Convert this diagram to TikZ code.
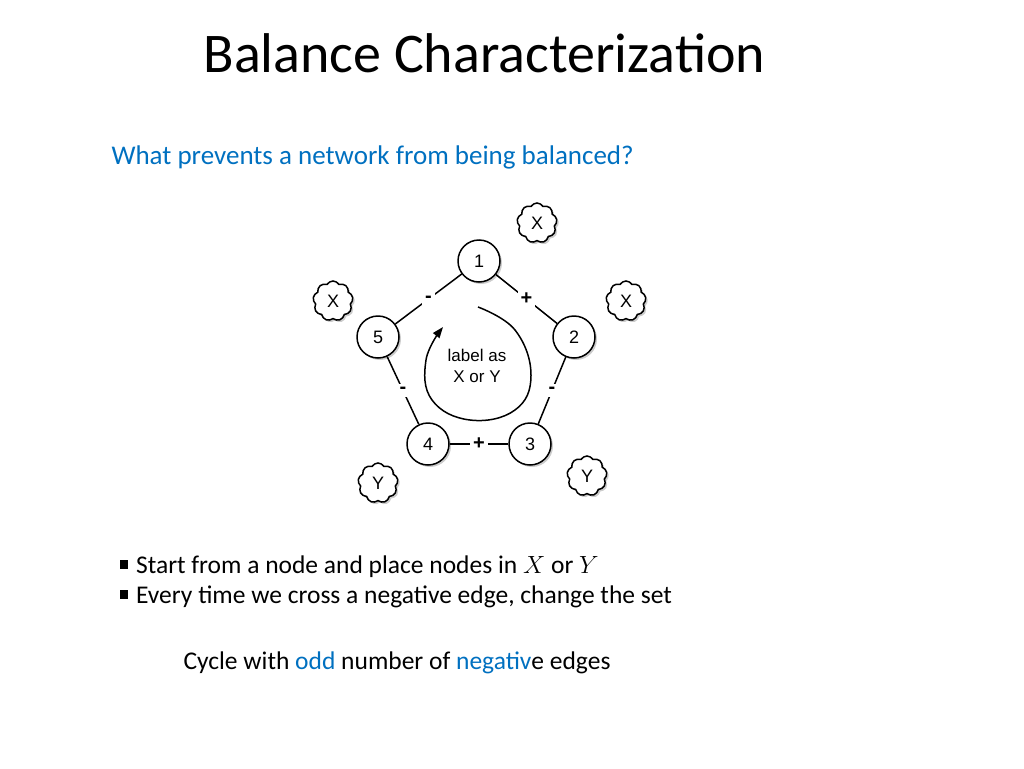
\documentclass[tikz,border=0pt]{standalone}
\usepackage{fontspec}
\setmainfont{Carlito}
\newfontfamily\arialf{Liberation Sans}
\usetikzlibrary{shapes.symbols,shadows,arrows.meta}
\definecolor{accent}{RGB}{0,112,192}
\newcommand{\bsq}{\raisebox{0.2em}{\rule{0.35em}{0.35em}}\hspace{0.3em}}
\begin{document}
\begin{tikzpicture}[x=1pt,y=-1pt,
  vert/.style={circle,draw,line width=1.5pt,fill=white,minimum size=42pt,inner sep=0pt,font=\arialf\fontsize{18}{18}\selectfont,drop shadow={opacity=0.4,shadow xshift=2pt,shadow yshift=-2pt}},
  cl/.style={cloud,cloud puffs=9,cloud puff arc=120,aspect=1,draw,line width=1.5pt,fill=white,minimum width=40pt,minimum height=40pt,inner sep=0pt,font=\arialf\fontsize{18}{18}\selectfont,drop shadow={opacity=0.4,shadow xshift=2pt,shadow yshift=-2pt}},
  sgn/.style={fill=white,inner sep=3pt,font=\arialf\bfseries\fontsize{20}{20}\selectfont},
  edge/.style={line width=1.5pt}]
\useasboundingbox (0,0) rectangle (1024,768);
\node[anchor=west,font=\fontsize{56}{56}\selectfont] (title) at (200,53) {Balance Characterization};
\node[anchor=west,text=accent,font=\fontsize{27}{27}\selectfont] (q) at (108,157) {What prevents a network from being balanced?};
\node (n1) [vert] at (479,261) {1};
\node (n2) [vert] at (574,337) {2};
\node (n3) [vert] at (530,444) {3};
\node (n4) [vert] at (428,444) {4};
\node (n5) [vert] at (378,337) {5};
\draw[edge] (n1) -- node[sgn]{+} (n2);
\draw[edge] (n2) -- node[sgn]{-} (n3);
\draw[edge] (n3) -- node[sgn]{+} (n4);
\draw[edge] (n4) -- node[sgn]{-} (n5);
\draw[edge] (n5) -- node[sgn]{-} (n1);
\node[cl] (c1) at (537,223) {X};
\node[cl] (c2) at (333,301) {X};
\node[cl] (c3) at (626,301) {X};
\node[cl] (c4) at (378,483) {Y};
\node[cl] (c5) at (587,476) {Y};
\node[align=center,font=\arialf\fontsize{17}{21}\selectfont] (lab) at (477,366) {label as\\X or Y};
\draw[line width=1.5pt,-{Triangle[length=11pt,width=8pt]}] plot[smooth,tension=0.7] coordinates {(478,307) (515,330) (531,375) (515,410) (470,420) (432,400) (426,360) (443,327)};
\node[anchor=west,font=\fontsize{25.5}{25.5}\selectfont] (b1) at (116,567) {\bsq Start from a node and place nodes in $X$ or $Y$};
\node[anchor=west,font=\fontsize{25.5}{25.5}\selectfont] (b2) at (116,597) {\bsq Every time we cross a negative edge, change the set};
\node[anchor=west,font=\fontsize{25.5}{25.5}\selectfont] (c) at (180,663) {Cycle with \textcolor{accent}{odd} number of \textcolor{accent}{negativ}e edges};
\end{tikzpicture}
\end{document}
